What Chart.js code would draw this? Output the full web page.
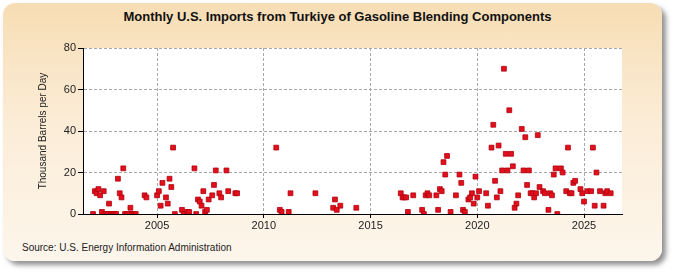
<!DOCTYPE html>
<html>
<head>
<meta charset="utf-8">
<script src="https://cdn.jsdelivr.net/npm/chart.js@4"></script>
<style>
  body { margin: 0; background: #fff; }
  #wrap { position: relative; width: 675px; height: 275px; overflow: hidden; }
  #panel {
    position: absolute; left: 3px; top: 3px; width: 659px; height: 258px;
    border-radius: 12px;
    background: linear-gradient(to bottom, #f7ddb4 0%, #fbecd6 45%, #fdf6ec 100%);
    box-shadow: 4px 4px 5px rgba(110, 110, 110, 0.75);
  }
  #title {
    position: absolute; left: 0; top: 9px; width: 675px; text-align: center;
    font: bold 13px 'Liberation Sans Narrow', 'Arial Narrow', sans-serif; color: #111;
  }
  #source {
    position: absolute; left: 22px; top: 242px;
    font: 10px 'Liberation Sans Narrow', 'Arial Narrow', sans-serif; color: #222;
  }
  canvas { position: absolute; left: 0; top: 0; }
</style>
</head>
<body>
<div id="wrap">
  <div id="panel"></div>
  <div id="title">Monthly U.S. Imports from Turkiye of Gasoline Blending Components</div>
  <div id="source">Source: U.S. Energy Information Administration</div>
  <canvas id="chart" width="675" height="275"></canvas>
</div>
<script>
// monthly points (month, thousand barrels per day)
const months = [
  '2002-01','2002-02','2002-03','2002-04','2002-05','2002-06','2002-07','2002-08','2002-09','2002-10','2002-11','2002-12',
  '2003-01','2003-02','2003-03','2003-04','2003-05','2003-06','2003-07','2003-08','2003-09','2003-10','2003-11','2003-12',
  '2004-01','2004-06','2004-07',
  '2005-01','2005-02','2005-03','2005-04','2005-06','2005-07','2005-08','2005-09','2005-10','2005-11',
  '2006-03','2006-04','2006-06','2006-07','2006-10','2006-11','2006-12',
  '2007-01','2007-02','2007-03','2007-04','2007-05','2007-06','2007-08','2007-09','2007-10','2007-12',
  '2008-01','2008-04','2008-05','2008-09','2008-10',
  '2010-08','2010-10','2010-11','2011-03','2011-04','2012-06',
  '2013-04','2013-05','2013-06','2013-08','2014-05',
  '2016-06','2016-07','2016-08','2016-09','2016-10',
  '2017-01','2017-06','2017-07','2017-08','2017-09','2017-10',
  '2018-02','2018-03','2018-04','2018-05','2018-06','2018-07','2018-08','2018-10',
  '2019-01','2019-03','2019-04','2019-05','2019-06','2019-08','2019-09','2019-10','2019-11','2019-12',
  '2020-01','2020-02','2020-06','2020-07','2020-09','2020-10','2020-11','2020-12',
  '2021-01','2021-02','2021-03','2021-04','2021-05','2021-06','2021-07','2021-08','2021-09','2021-10','2021-11','2021-12',
  '2022-02','2022-03','2022-04','2022-05','2022-06','2022-07','2022-08','2022-09','2022-10','2022-11','2022-12',
  '2023-02','2023-03','2023-05','2023-06','2023-07','2023-08','2023-09','2023-10','2023-12',
  '2024-01','2024-03','2024-04','2024-05','2024-06','2024-07','2024-08','2024-11','2024-12',
  '2025-01','2025-03','2025-05','2025-06','2025-07','2025-08','2025-10','2025-12',
  '2026-01','2026-02','2026-04'
];
const imports = [
  0, 11, 10, 12, 9, 1, 11, 0, 0, 5, 0, 0,
  0, 0, 17, 10, 8, 22, 0, 0, 0, 3, 0, 0,
  0, 9, 8,
  9, 11, 4, 15, 8, 5, 17, 13, 32, 0,
  2, 0, 1, 1, 22, 0, 7,
  6, 4, 11, 1, 2, 7, 9, 14, 21, 10,
  8, 21, 11, 10, 10,
  32, 2, 1, 1, 10, 10,
  3, 7, 2, 4, 3,
  10, 8, 8, 8, 1,
  9, 2, 0, 9, 10, 9,
  9, 2, 12, 11, 25, 19, 28, 1,
  9, 19, 15, 2, 1, 7, 8, 10, 5, 18,
  8, 11, 10, 4, 32, 43, 16, 8,
  33, 11, 21, 70, 29, 21, 50, 29, 23, 3, 5, 9,
  41, 21, 37, 14, 21, 10, 10, 8, 10, 38, 13,
  11, 10, 2, 10, 9, 19, 22, 0, 22,
  20, 11, 32, 10, 10, 15, 16, 12, 10,
  6, 11, 11, 32, 4, 20, 11, 4,
  10, 11, 10
];
const tickYears = [2005, 2010, 2015, 2020, 2025];
const tickValues = [0, 20, 40, 60, 80];

function toYear(m) {
  const [y, mo] = m.split('-').map(Number);
  return y + (mo - 1) / 12;
}

const points = months.map((m, i) => ({ x: toYear(m), y: imports[i] }));
const narrow = "'Liberation Sans Narrow', 'Arial Narrow', sans-serif";

const plotBg = {
  id: 'plotBg',
  beforeDraw(chart) {
    const { ctx, chartArea: a } = chart;
    ctx.save();
    ctx.fillStyle = '#ffffff';
    ctx.fillRect(a.left, a.top, a.right - a.left, a.bottom - a.top);
    ctx.restore();
  }
};

new Chart(document.getElementById('chart').getContext('2d'), {
  type: 'scatter',
  data: {
    datasets: [{
      data: points,
      pointStyle: 'rect',
      pointRadius: 3.4,
      backgroundColor: '#e3101c',
      borderColor: '#b0000e',
      borderWidth: 0.8
    }]
  },
  options: {
    responsive: false,
    animation: false,
    layout: { padding: { left: 0, top: 48, right: 53, bottom: 41 } },
    plugins: { legend: { display: false }, tooltip: { enabled: false } },
    scales: {
      x: {
        type: 'linear',
        min: 2001.53,
        max: 2026.78,
        afterBuildTicks: s => { s.ticks = tickYears.map(v => ({ value: v })); },
        afterFit: s => { s.height = 20; },
        ticks: { color: '#222', font: { family: narrow, size: 11 }, padding: 1, maxRotation: 0, callback: v => String(v) },
        grid: { color: '#a8a8a8', tickColor: '#000', tickLength: 4 },
        border: { color: '#000', width: 1, dash: [3, 2] }
      },
      y: {
        min: 0,
        max: 80,
        afterBuildTicks: s => { s.ticks = tickValues.map(v => ({ value: v })); },
        afterFit: s => { s.width = 83; },
        ticks: { color: '#222', font: { family: narrow, size: 11 }, padding: 2 },
        grid: { color: '#a8a8a8', tickColor: '#000', tickLength: 5 },
        border: { color: '#000', width: 1, dash: [3, 2] },
        title: {
          display: true,
          text: 'Thousand Barrels per Day',
          color: '#222',
          font: { family: narrow, size: 10 },
          padding: { top: 37, bottom: 0 }
        }
      }
    }
  },
  plugins: [plotBg]
});
</script>
</body>
</html>
